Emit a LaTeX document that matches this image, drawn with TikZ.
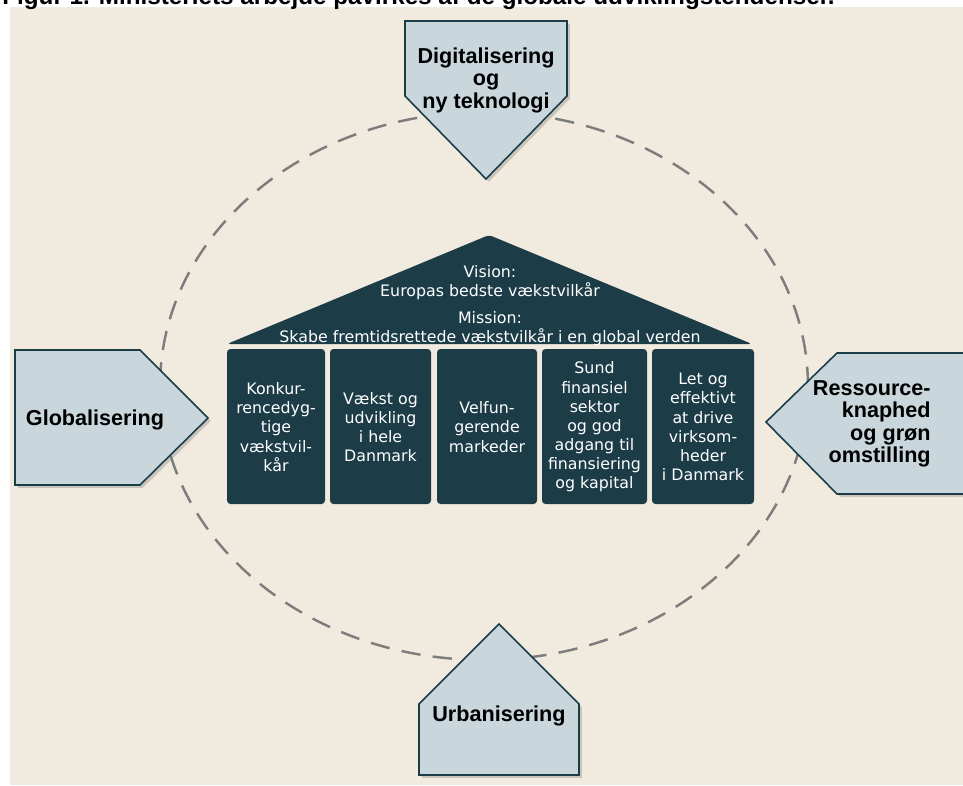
\documentclass[tikz,border=0pt]{standalone}
\usepackage{fontspec}
\setmainfont{DejaVu Sans}
\newfontfamily\arialfont{Liberation Sans}
\usetikzlibrary{shadows}

\definecolor{paper}{RGB}{241,234,223}
\definecolor{housecol}{RGB}{28,60,72}
\definecolor{trendfill}{RGB}{201,214,220}
\definecolor{ringcol}{RGB}{125,125,125}

\tikzset{
	trend/.style={fill=trendfill,draw=housecol,line width=0.9pt,line join=miter,
		drop shadow={shadow xshift=1.6pt,shadow yshift=-1.6pt,opacity=0.35}},
	trendtext/.style={font=\arialfont\fontsize{12.3}{12.8}\selectfont\bfseries,inner sep=0pt},
	pillar/.style={fill=housecol,rounded corners=2pt},
	pillartext/.style={font=\fontsize{9}{10.9}\selectfont,text=white,align=center,inner sep=0pt},
	rooftext/.style={font=\fontsize{9}{10.8}\selectfont,text=white,align=center,inner sep=0pt}
}

\begin{document}
\begin{tikzpicture}[x=0.02cm,y=-0.02cm]
	\useasboundingbox (0,0) rectangle (963,785);
	\fill[paper] (10,7) rectangle (963,785);

	\node[anchor=base west,inner sep=0pt,font=\arialfont\fontsize{13.8}{16}\selectfont\bfseries] (title) at (2,4)
		{Figur 1. Ministeriets arbejde påvirkes af de globale udviklingstendenser.};

	\draw[ringcol,line width=1.4pt,dash pattern=on 11pt off 7pt] (484,386) ellipse [x radius=6.48cm,y radius=5.48cm];

	\filldraw[trend] (405,21) -- (567,21) -- (567,96) -- (486,179) -- (405,96) -- cycle;
	\filldraw[trend] (15,350) -- (140,350) -- (208,418) -- (140,485) -- (15,485) -- cycle;
	\filldraw[trend] (766,422) -- (837,353) -- (975,353) -- (975,494) -- (837,494) -- cycle;
	\filldraw[trend] (499,624) -- (579,704) -- (579,775) -- (419,775) -- (419,704) -- cycle;

	\node[trendtext,align=center] (digital) at (486,80) {Digitalisering\\og\\ny teknologi};
	\node[trendtext] (global) at (95,420) {Globalisering};
	\node[trendtext,align=right,anchor=east] (ressource) at (931,424) {Ressource-\\knaphed\\og grøn\\omstilling};
	\node[trendtext] (urban) at (499,716) {Urbanisering};

	\fill[housecol,rounded corners=2pt] (227,344) -- (489,235) -- (752,344) -- cycle;
	\node[rooftext] (vision) at (490,282.5) {Vision:\\Europas bedste vækstvilkår};
	\node[rooftext] (mission) at (490,329) {Mission:\\Skabe fremtidsrettede vækstvilkår i en global verden};

	\fill[pillar] (227,349) rectangle (325,504);
	\fill[pillar] (330,349) rectangle (431,504);
	\fill[pillar] (437,349) rectangle (537,504);
	\fill[pillar] (542,349) rectangle (647,504);
	\fill[pillar] (652,349) rectangle (754,504);

	\node[pillartext] (konkurrence) at (276,427) {Konkur-\\rencedyg-\\tige\\vækstvil-\\kår};
	\node[pillartext] (vaekst) at (380.5,427) {Vækst og\\udvikling\\i hele\\Danmark};
	\node[pillartext] (markeder) at (487,427) {Velfun-\\gerende\\markeder};
	\node[pillartext] (finans) at (594.5,427) {Sund\\finansiel\\sektor\\og god\\adgang til\\finansiering\\og kapital};
	\node[pillartext] (virksomhed) at (703,427) {Let og\\effektivt\\at drive\\virksom-\\heder\\i Danmark};
\end{tikzpicture}
\end{document}
